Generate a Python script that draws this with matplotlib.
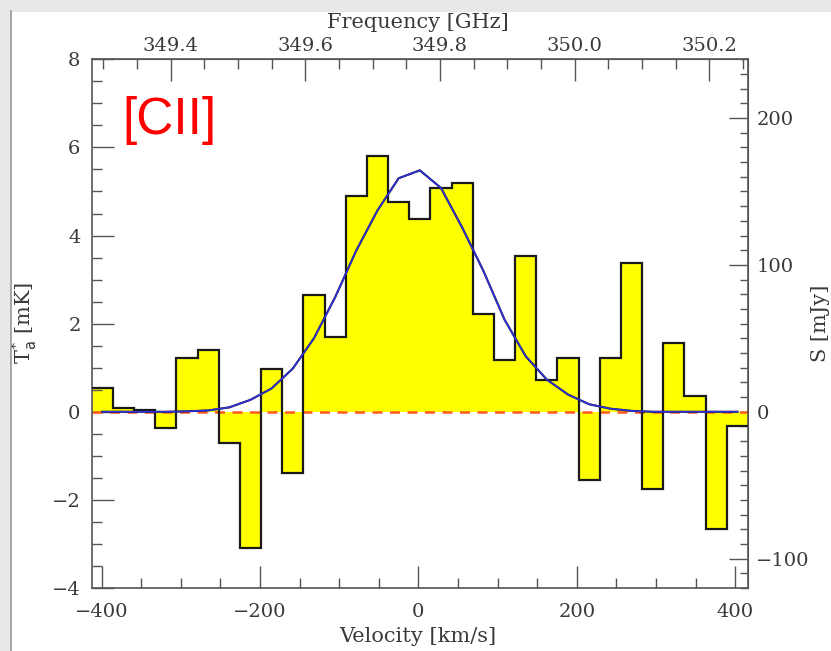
import numpy as np
import matplotlib
matplotlib.use('Agg')
from matplotlib import pyplot as plt
from matplotlib.patches import Rectangle
from matplotlib.lines import Line2D
from matplotlib.ticker import MultipleLocator, FixedLocator, FormatStrFormatter

# channel centres [km/s]
velocity = [-399.3, -372.6, -345.8, -319.1, -292.4, -265.6, -238.9, -212.2,
            -185.4, -158.7, -131.9, -105.2, -78.5, -51.7, -25.0, 1.8,
            28.5, 55.3, 82.0, 108.8, 135.5, 162.2, 189.0, 215.7,
            242.4, 269.2, 295.9, 322.7, 349.4, 376.1, 402.9]

# antenna temperature per channel [mK]
t_mk = [0.54, 0.09, 0.04, -0.36, 1.23, 1.40, -0.70, -3.10,
        0.96, -1.38, 2.65, 1.69, 4.90, 5.81, 4.75, 4.37,
        5.07, 5.19, 2.22, 1.18, 3.54, 0.72, 1.21, -1.55,
        1.23, 3.37, -1.76, 1.56, 0.36, -2.67, -0.32]

# gaussian fit read at channel centres [mK]
fit_mk = [0.0, 0.0, 0.0, 0.0, 0.01, 0.03, 0.10, 0.27,
          0.53, 0.98, 1.67, 2.60, 3.66, 4.57, 5.30, 5.48,
          5.08, 4.18, 3.20, 2.09, 1.26, 0.73, 0.39, 0.17,
          0.07, 0.02, 0.0, 0.0, 0.0, 0.0, 0.0]

# tick labels
vel_ticks = [-400, -200, 0, 200, 400]
tmb_ticks = [-4, -2, 0, 2, 4, 6, 8]
freq_ticks = [349.4, 349.6, 349.8, 350.0, 350.2]
flux_ticks = [-100, 0, 100, 200]

# axis conversions
F0_GHZ = 349.768
KMS_PER_GHZ = 850.0
MJY_PER_MK = 30.0

W, H = 831, 651
fig = plt.figure(figsize=(W/100, H/100), dpi=100)
ax = fig.add_axes([91.7/W, 1-588/H, (748-91.7)/W, (588-59.3)/H])

v = np.array(velocity)
dv = np.diff(v).mean()
edges = np.append(v-dv/2, v[-1]+dv/2)

ax.stairs(t_mk, edges, baseline=0, fill=True, color='#ffff00', lw=0, zorder=1)
ax.axhline(0, color='#ff5a1e', ls=(0, (4, 3)), lw=1.8, zorder=2)
ax.stairs(t_mk, edges, baseline=None, color='#1a1a1a', lw=1.6, zorder=3)
ax.plot(v, fit_mk, color='#111111', lw=1.5, zorder=4)
ax.plot(v, fit_mk, color='#3030dd', lw=1.2, zorder=5)

ax.set_xlim(edges[0], edges[-1])
ax.set_ylim(-4, 8)

tick_col = '#555555'
txt_col = '#3a3a3a'
SERIF = 'DejaVu Serif'
lab_font = dict(family=SERIF, size=15, color=txt_col)

ax.xaxis.set_major_locator(FixedLocator(vel_ticks))
ax.xaxis.set_minor_locator(MultipleLocator(50))
ax.yaxis.set_major_locator(FixedLocator(tmb_ticks))
ax.yaxis.set_minor_locator(MultipleLocator(0.5))
ax.tick_params(which='both', direction='in', top=False, right=False,
               color=tick_col, width=1.0, labelsize=14, labelcolor=txt_col)
ax.tick_params(which='major', length=16)
ax.tick_params(which='minor', length=7)
ax.tick_params(axis='x', which='major', pad=11)
ax.tick_params(axis='y', which='major', pad=8)
for s in ax.spines.values():
    s.set_color(tick_col)
    s.set_linewidth(1.2)

top = ax.secondary_xaxis('top', functions=(lambda x: F0_GHZ + x/KMS_PER_GHZ,
                                           lambda f: (f-F0_GHZ)*KMS_PER_GHZ))
top.xaxis.set_major_locator(FixedLocator(freq_ticks))
top.xaxis.set_minor_locator(MultipleLocator(0.05))
top.xaxis.set_major_formatter(FormatStrFormatter('%.1f'))
top.tick_params(which='both', direction='in', color=tick_col, width=1.0,
                labelsize=14, labelcolor=txt_col)
top.tick_params(which='major', length=16, pad=3)
top.tick_params(which='minor', length=7)
top.spines['top'].set_color(tick_col)

right = ax.secondary_yaxis('right', functions=(lambda t: t*MJY_PER_MK,
                                               lambda s: s/MJY_PER_MK))
right.yaxis.set_major_locator(FixedLocator(flux_ticks))
right.yaxis.set_minor_locator(MultipleLocator(10))
right.tick_params(which='both', direction='in', color=tick_col, width=1.0,
                  labelsize=14, labelcolor=txt_col)
right.tick_params(which='major', length=14, pad=6)
right.tick_params(which='minor', length=6)
right.spines['right'].set_color(tick_col)

for lab in ax.get_xticklabels() + ax.get_yticklabels() + \
        top.get_xticklabels() + right.get_yticklabels():
    lab.set_family(SERIF)

fig.text(418/W, 1-636/H, 'Velocity [km/s]', ha='center', va='center', **lab_font)
fig.text(418/W, 1-22/H, 'Frequency [GHz]', ha='center', va='center', **lab_font)
fig.text(24/W, 1-323/H, r'T$_{\rm a}^{*}$ [mK]', ha='center', va='center',
         rotation=90, **lab_font)
fig.text(820/W, 1-323/H, 'S [mJy]', ha='center', va='center',
         rotation=90, **lab_font)

ax.text(0.046, 0.885, '[CII]', transform=ax.transAxes, color='#ff0000',
        family='Liberation Sans', fontsize=37, ha='left', va='center')

# grey frame of the screenshot
fig.add_artist(Rectangle((0, 1-10.5/H), 1, 10.5/H, transform=fig.transFigure,
                         color='#e8e8e8', zorder=10))
fig.add_artist(Rectangle((0, 0), 10/W, 1, transform=fig.transFigure,
                         color='#e8e8e8', zorder=10))
fig.add_artist(Line2D([10.8/W, 10.8/W], [0, 1-10.5/H], transform=fig.transFigure,
                      color='#999999', lw=1.2, zorder=11))

fig.savefig('out.png', dpi=100)
